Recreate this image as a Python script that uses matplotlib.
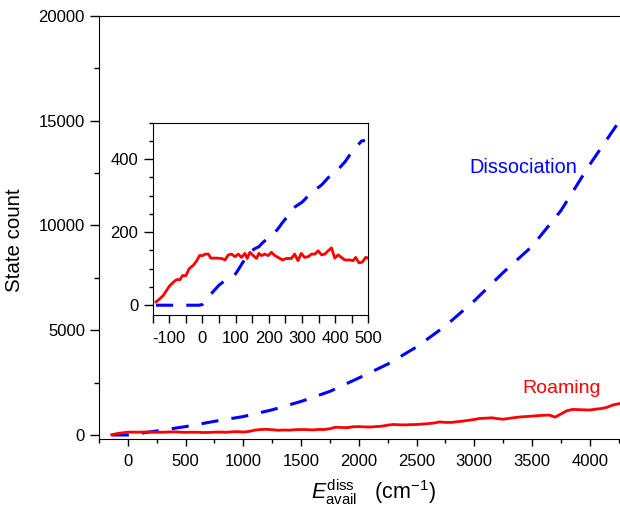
import matplotlib
matplotlib.use("Agg")
import matplotlib.pyplot as plt
from matplotlib.ticker import MultipleLocator

plt.rcParams['font.family'] = ['Liberation Sans', 'DejaVu Sans']
plt.rcParams['mathtext.fontset'] = 'custom'
plt.rcParams['mathtext.rm'] = 'Liberation Sans'
plt.rcParams['mathtext.it'] = 'Liberation Sans:italic'
plt.rcParams['axes.unicode_minus'] = False

# Main panel data
diss_x = [-140, 0, 250, 500, 750, 1000, 1250, 1500, 1750, 2000, 2250, 2500,
          2750, 3000, 3250, 3500, 3750, 4000, 4260]
diss_y = [0, 0, 190, 400, 650, 880, 1200, 1600, 2080, 2720, 3380, 4200,
          5200, 6400, 7750, 9000, 10700, 12900, 15000]

roam_x = [-140, -100, -50, 0, 50, 100, 150, 200, 250, 300, 350, 400, 450, 500,
          550, 600, 650, 700, 750, 800, 850, 900, 950, 1000, 1050, 1100, 1150,
          1200, 1250, 1300, 1350, 1400, 1450, 1500, 1550, 1600, 1650, 1700,
          1750, 1800, 1850, 1900, 1950, 2000, 2050, 2100, 2150, 2200, 2250,
          2300, 2350, 2400, 2450, 2500, 2550, 2600, 2650, 2700, 2750, 2800,
          2850, 2900, 2950, 3000, 3050, 3100, 3150, 3200, 3250, 3300, 3350,
          3400, 3450, 3500, 3550, 3600, 3650, 3700, 3750, 3800, 3850, 3900,
          3950, 4000, 4050, 4100, 4150, 4200, 4260]
roam_y = [10, 60, 100, 136, 135, 133, 145, 140, 128, 130, 142, 150, 135, 125,
          132, 130, 118, 120, 135, 140, 128, 150, 160, 140, 170, 230, 260,
          270, 250, 225, 235, 230, 250, 260, 255, 240, 262, 260, 300, 370,
          355, 350, 390, 400, 385, 380, 400, 420, 470, 500, 485, 480, 495,
          500, 520, 540, 570, 620, 600, 600, 630, 660, 700, 740, 790, 800,
          820, 780, 750, 790, 830, 860, 880, 900, 920, 940, 950, 850, 1000,
          1150, 1220, 1210, 1200, 1190, 1230, 1260, 1320, 1430, 1500]

# Inset data
in_roam_x = [-140, -128, -118, -108, -98, -88, -78, -68, -60, -50, -40, -28,
             -17, -9, 1, 8, 18, 25, 43, 58, 68, 78, 88, 98, 108, 118, 128, 135,
             143, 153, 163, 170, 178, 188, 198, 208, 218, 228, 241, 253, 268,
             278, 288, 298, 308, 319, 329, 339, 349, 359, 369, 379, 389, 399,
             409, 419, 429, 444, 454, 462, 472, 482, 492, 500]
in_roam_y = [9, 18, 27, 41, 54, 63, 70, 70, 81, 81, 100, 109, 122, 136, 136,
             140, 140, 129, 129, 128, 124, 138, 140, 133, 140, 131, 142, 128,
             145, 136, 128, 142, 136, 140, 136, 145, 136, 131, 124, 128, 128,
             140, 122, 142, 131, 133, 140, 140, 149, 138, 140, 149, 157, 129,
             138, 131, 124, 124, 122, 131, 116, 118, 131, 129]

in_diss_x = [-140, -100, -50, -10, 0, 10, 20, 30, 40, 50, 60, 70, 80, 90, 100,
             110, 120, 130, 140, 150, 160, 170, 180, 190, 200, 210, 220, 230,
             240, 250, 260, 270, 280, 290, 300, 310, 320, 330, 340, 350, 360,
             370, 380, 390, 400, 410, 420, 430, 440, 450, 460, 470, 480, 490]
in_diss_y = [0, 0, 0, 0, 2, 12, 25, 35, 45, 55, 62, 68, 74, 80, 86, 100, 115,
             128, 138, 150, 156, 160, 170, 178, 186, 194, 201, 212, 225, 236,
             246, 258, 270, 276, 282, 291, 301, 311, 318, 323, 330, 340, 350,
             360, 366, 373, 383, 393, 406, 421, 432, 440, 450, 451]

BLUE = '#0000ff'
RED = '#ff0000'
DASH = (5.6, 4.3)

fig = plt.figure(figsize=(6.2, 5.09), dpi=100)
ax = fig.add_axes([0.1597, 0.137, 0.8403, 0.832])
ax.plot(diss_x, diss_y, color=BLUE, lw=2.2, dashes=DASH)
ax.plot(roam_x, roam_y, color=RED, lw=2.0)
ax.set_xlim(-250, 4262)
ax.set_ylim(-205, 20000)
ax.spines['right'].set_visible(False)
ax.xaxis.set_major_locator(MultipleLocator(500))
ax.xaxis.set_minor_locator(MultipleLocator(250))
ax.yaxis.set_major_locator(MultipleLocator(5000))
ax.yaxis.set_minor_locator(MultipleLocator(2500))
ax.tick_params(which='both', width=1, labelsize=12)
ax.tick_params(axis='y', which='major', length=6.5, pad=3.6)
ax.tick_params(axis='y', which='minor', length=3.4)
ax.tick_params(axis='x', which='major', length=5.3, pad=5.5)
ax.tick_params(axis='x', which='minor', length=3.0)
ax.tick_params(axis='x', which='both', top=False)
ax.text(3422, 12494, 'Dissociation', color=BLUE, fontsize=14.3, ha='center', va='baseline')
ax.text(3760, 2003, 'Roaming', color=RED, fontsize=14, ha='center', va='baseline')

fig.text(0.0234, 0.5285, 'State count', fontsize=14.8, rotation=90,
         ha='center', va='center')
fig.text(0.6024, 0.019, r'$E_{\rm avail}^{\rm diss}$   (cm$^{-1}$)',
         fontsize=15.5, ha='center', va='baseline')

ins = fig.add_axes([0.2463, 0.381, 0.3477, 0.378])
ins.plot(in_diss_x, in_diss_y, color=BLUE, lw=2.2, dashes=DASH)
ins.plot(in_roam_x, in_roam_y, color=RED, lw=2.0)
ins.set_xlim(-150, 500)
ins.set_ylim(-27, 500)
ins.xaxis.set_major_locator(MultipleLocator(100))
ins.xaxis.set_minor_locator(MultipleLocator(50))
ins.yaxis.set_major_locator(MultipleLocator(200))
ins.yaxis.set_minor_locator(MultipleLocator(50))
ins.tick_params(which='both', width=1, labelsize=12)
ins.tick_params(axis='y', which='major', length=6.7, pad=3.6)
ins.tick_params(axis='y', which='minor', length=2.7)
ins.tick_params(axis='x', which='both', length=5.5, pad=6)

fig.savefig('out.png', dpi=100)
